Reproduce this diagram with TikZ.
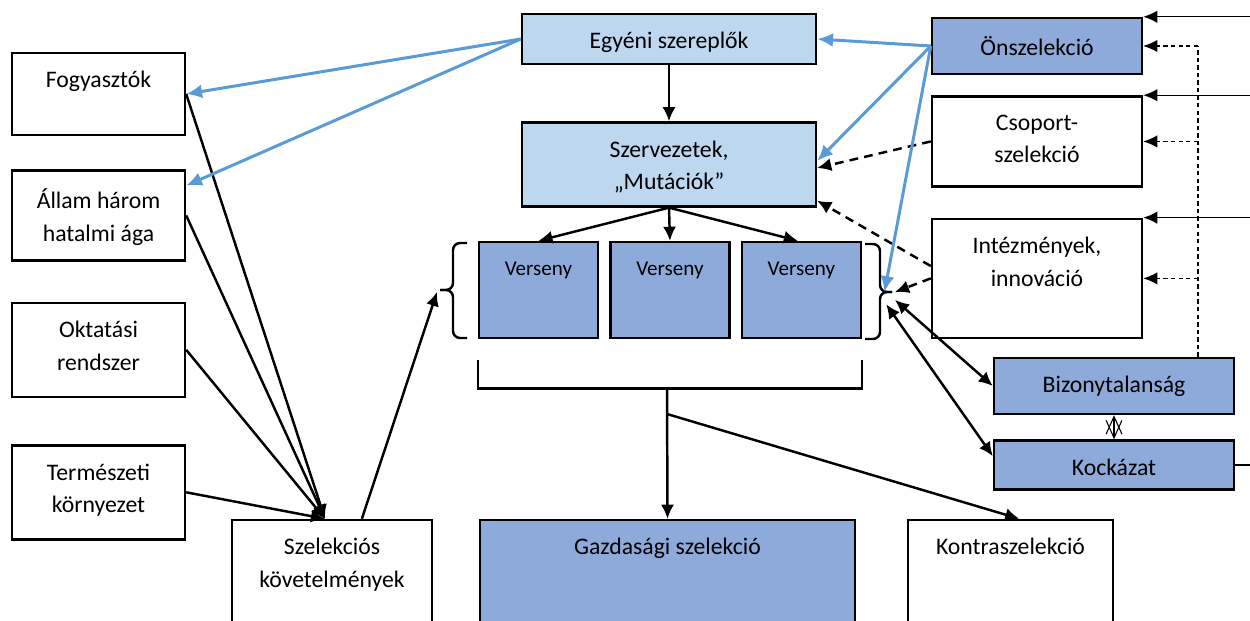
\documentclass[tikz,border=0pt]{standalone}
\usepackage{fontspec}
\setmainfont{Carlito}
\usepackage{tikz}
\usetikzlibrary{positioning}
\usetikzlibrary{arrows.meta}
\definecolor{lightbox}{RGB}{189,215,238}
\definecolor{darkbox}{RGB}{142,170,219}
\definecolor{selblue}{RGB}{91,155,213}
\tikzset{edge/.style = {->,> = {Latex[length=8pt,width=7.5pt]}}}
\tikzset{bedge/.style = {->,> = {Latex[length=9pt,width=8pt]}, draw=selblue, line width=1.7pt}}
\tikzset{thinedge/.style = {-{Latex[length=8pt,width=7pt]}, line width=0.7pt}}
\tikzset{thindash/.style = {line width=0.7pt, dash pattern=on 2.5pt off 1.8pt}}
\tikzset{bigdash/.style = {dash pattern=on 5pt off 3.5pt}}

\begin{document}
\begin{tikzpicture}[x=0.02cm, y=-0.02cm, line width=1.4pt, font=\fontsize{13.5}{18.5}\selectfont,
    box/.style={draw, inner sep=0pt, minimum width=3.46cm},
    txt/.style={below, align=center, inner xsep=0pt, inner ysep=10.5pt},
    vtxt/.style={txt, inner ysep=11.5pt, font=\fontsize{12}{15}\selectfont}]
\useasboundingbox (0,0) rectangle (1250,621);
\clip (0,0) rectangle (1250,621);

\node[box, minimum height=1.64cm, label={[txt]north:Fogyasztók}] (fogy) at (98.5,94) {};
\node[box, minimum height=1.8cm, label={[txt]north:{Állam három\\hatalmi ága}}] (allam) [below=0.66cm of fogy] {};
\node[box, minimum height=1.88cm, label={[txt]north:{Oktatási\\rendszer}}] (oktat) [below=0.8cm of allam] {};
\node[box, minimum height=1.88cm, label={[txt]north:{Természeti\\környezet}}] (term) [below=0.92cm of oktat] {};
\node[box, minimum width=4cm, minimum height=2.6cm, label={[txt]north:{Szelekciós\\követelmények}}] (szel) at (332,585) {};

\node[box, fill=lightbox, minimum width=5.88cm, minimum height=1cm, label={[txt]north:Egyéni szereplők}] (egyeni) at (669,39) {};
\node[box, fill=lightbox, minimum width=5.88cm, minimum height=1.68cm, label={[txt]north:{Szervezetek,\\„Mutációk”}}] (szerv) [below=1.12cm of egyeni] {};
\node[box, fill=darkbox, minimum width=2.38cm, minimum height=1.92cm, label={[vtxt]north:Verseny}] (vers1) at (538.5,290) {};
\node[box, fill=darkbox, minimum width=2.38cm, minimum height=1.92cm, label={[vtxt]north:Verseny}] (vers2) [right=0.2cm of vers1] {};
\node[box, fill=darkbox, minimum width=2.38cm, minimum height=1.92cm, label={[vtxt]north:Verseny}] (vers3) [right=0.2cm of vers2] {};
\node[box, fill=darkbox, minimum width=7.5cm, minimum height=2.6cm, label={[txt]north:Gazdasági szelekció}] (gazd) at (667.5,585) {};
\node[box, minimum width=4.1cm, minimum height=2.6cm, label={[txt]north:Kontraszelekció}] (kontra) at (1010.5,585) {};

\node[box, fill=darkbox, minimum width=4.2cm, minimum height=1.12cm, label={[txt]north:Önszelekció}] (onsz) at (1037,46) {};
\node[box, minimum width=4.2cm, minimum height=1.8cm, label={[txt]north:{Csoport-\\szelekció}}] (csop) [below=0.4cm of onsz] {};
\node[box, minimum width=4.2cm, minimum height=2.38cm, label={[txt]north:{Intézmények,\\innováció}}] (intez) [below=0.6cm of csop] {};
\node[box, fill=darkbox, minimum width=4.8cm, minimum height=1.12cm, label={[txt]north:Bizonytalanság}] (bizo) at (1114,386) {};
\node[box, fill=darkbox, minimum width=4.8cm, minimum height=0.98cm, label={[txt]north:Kockázat}] (kock) [below=0.48cm of bizo] {};

\draw[rounded corners=4pt] (467,243) -- (453,243) -- (453,290) -- (440,290);
\draw[rounded corners=4pt] (440,290) -- (453,290) -- (453,338) -- (467,338);
\draw[rounded corners=4pt] (865,244) -- (880,244) -- (880,292) -- (892,292);
\draw[rounded corners=4pt] (892,292) -- (880,292) -- (880,339) -- (865,339);
\coordinate (lbr) at (437,292);
\coordinate (rbr) at (895,292);
\draw ([yshift=-12pt]vers1.south west) -- ++(0,28) -| ([yshift=-12pt]vers3.south east);
\coordinate (bmid) at (667,387);
\coordinate (bfork) at (667,414);
\coordinate (rim) at (1250,0);
\coordinate (dtop) at (1198,46);

\draw[edge] (egyeni) -- (szerv);
\draw[edge] (szerv.south) -- (vers1.north);
\draw[edge] (szerv.south) -- (vers2.north);
\draw[edge] (szerv.south) -- ([xshift=-2pt]vers3.north);
\draw[edge] (fogy.east) -- ([xshift=-4pt]szel.north);
\draw[edge] (allam.east) -- ([xshift=-4pt]szel.north);
\draw[edge] (oktat.east) -- ([xshift=-4pt]szel.north);
\draw[edge] (term.east) -- ([xshift=-4pt]szel.north);
\draw[edge] ([xshift=17pt]szel.north) -- (lbr);
\draw[edge] (bmid) -- (gazd.north);
\draw[edge] (bfork) -- ([xshift=5pt]kontra.north);
\draw[edge, <->] ([yshift=-4.5pt]rbr) -- (bizo.west);
\draw[edge, <->] ([xshift=-5pt,yshift=-7pt]rbr) -- ([yshift=5pt]kock.west);

\draw[edge, bigdash] (csop.west) -- ([yshift=-2pt]szerv.east);
\draw[edge, bigdash] ([yshift=7pt]intez.west) -- ([yshift=4pt]szerv.south east);
\draw[edge, bigdash] (intez.west) -- (rbr);

\draw[bedge] (onsz.west) -- (egyeni.east);
\draw[bedge] (onsz.west) -- ([yshift=2pt]szerv.east);
\draw[bedge] (onsz.west) -- ([xshift=-6pt]rbr);
\draw[bedge] (egyeni.west) -- (fogy.east);
\draw[bedge] (egyeni.west) -- ([yshift=17pt]allam.east);

\draw[thinedge] (onsz.north east -| rim) -- (onsz.north east);
\draw[thinedge] (csop.north east -| rim) -- (csop.north east);
\draw[thinedge] (intez.north east -| rim) -- (intez.north east);
\draw[line width=0.7pt] (kock.east) -- (kock.east -| rim);
\draw[thindash] (bizo.north -| dtop) -- (dtop);
\draw[thindash, thinedge] (dtop) -- (onsz.east);
\draw[thindash, thinedge] (csop.east -| dtop) -- (csop.east);
\draw[thindash, thinedge] (intez.east -| dtop) -- (intez.east);
\draw[line width=0.6pt, {Straight Barb[length=10pt,width=9pt]}-{Straight Barb[length=10pt,width=9pt]}] (bizo.south) -- (kock.north);
\end{tikzpicture}
\end{document}
